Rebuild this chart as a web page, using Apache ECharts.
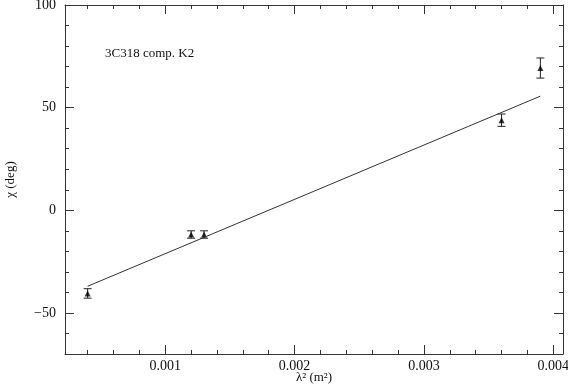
<!DOCTYPE html>
<html>
<head>
<meta charset="utf-8">
<script src="https://cdn.jsdelivr.net/npm/echarts@6/dist/echarts.min.js"></script>
<style>
html, body { margin: 0; padding: 0; background: #fff; }
#chart { width: 568px; height: 390px; }
</style>
</head>
<body>
<div id="chart"></div>
<script>
// lambda^2 (m^2) of each measurement
var lam2 = [0.0004, 0.0012, 0.0013, 0.0036, 0.0039];
// position angle chi (deg) and its error
var chi = [-40.5, -11.8, -11.8, 43.9, 69.3];
var chiErr = [2.3, 1.8, 1.8, 3, 4.9];
// fitted line end points
var fitX = [0.0004, 0.0039];
var fitY = [-37, 55.6];

var xTickLabels = ['0.001', '0.002', '0.003', '0.004'];
var yTickLabels = ['-50', '0', '50', '100'];

var axisColor = '#333';
var font = '"Liberation Serif", "DejaVu Serif", serif';

var fmtX = function(v) {
	for (var i = 0; i < xTickLabels.length; i++) {
		if (Math.abs(v - parseFloat(xTickLabels[i])) < 1e-9) return xTickLabels[i];
	}
	return '';
};
var fmtY = function(v) {
	for (var i = 0; i < yTickLabels.length; i++) {
		if (Math.abs(v - parseFloat(yTickLabels[i])) < 1e-9) return yTickLabels[i].replace('-', '\u2212');
	}
	return '';
};

var baseAxis = function(extra) {
	var a = {
		type: 'value',
		scale: true,
		splitLine: { show: false },
		axisLine: { show: true, onZero: false, lineStyle: { color: axisColor, width: 1 } },
		axisTick: { show: true, inside: true, length: 9, lineStyle: { color: axisColor } },
		minorTick: { show: true, splitNumber: 5, length: 4, lineStyle: { color: axisColor } },
		axisLabel: { show: false }
	};
	for (var k in extra) a[k] = extra[k];
	return a;
};

var errData = lam2.map(function(x, i) { return [x, chi[i] - chiErr[i], chi[i] + chiErr[i]]; });

var option = {
	animation: false,
	backgroundColor: '#fff',
	grid: { left: 65, right: 5, top: 5, bottom: 36, containLabel: false, outerBoundsMode: 'none' },
	title: {
		text: '3C318 comp. K2',
		left: 100,
		top: 42,
		textStyle: { fontFamily: font, fontSize: 13, fontWeight: 'normal', color: '#111' }
	},
	xAxis: [
		baseAxis({
			position: 'bottom', min: 0.000225, max: 0.004075, splitNumber: 4,
			axisLabel: { show: true, formatter: fmtX, fontFamily: font, fontSize: 14, color: '#111', margin: 5 },
			name: 'λ² (m²)', nameLocation: 'middle', nameGap: 17, nameMoveOverlap: false,
			nameTextStyle: { fontFamily: font, fontSize: 13, color: '#111' }
		}),
		baseAxis({ position: 'top', min: 0.000225, max: 0.004075, splitNumber: 4 })
	],
	yAxis: [
		baseAxis({
			position: 'left', min: -70, max: 100, splitNumber: 4,
			axisLabel: { show: true, formatter: fmtY, fontFamily: font, fontSize: 14, color: '#111', margin: 9 },
			name: 'χ (deg)', nameLocation: 'middle', nameGap: 48, nameRotate: 90,
			nameTextStyle: { fontFamily: font, fontSize: 13, color: '#111' }
		}),
		baseAxis({ position: 'right', min: -70, max: 100, splitNumber: 4 })
	],
	series: [{
		type: 'line',
		data: fitX.map(function(x, i) { return [x, fitY[i]]; }),
		symbol: 'none',
		lineStyle: { color: '#333', width: 1 },
		silent: true
	}, {
		type: 'custom',
		data: errData,
		renderItem: function(params, api) {
			var x = api.value(0);
			var lo = api.coord([x, api.value(1)]);
			var hi = api.coord([x, api.value(2)]);
			var cap = 4;
			return {
				type: 'group',
				children: [
					{ type: 'line', shape: { x1: lo[0], y1: lo[1], x2: hi[0], y2: hi[1] }, style: { stroke: '#222', lineWidth: 1 } },
					{ type: 'line', shape: { x1: lo[0] - cap, y1: lo[1], x2: lo[0] + cap, y2: lo[1] }, style: { stroke: '#222', lineWidth: 1 } },
					{ type: 'line', shape: { x1: hi[0] - cap, y1: hi[1], x2: hi[0] + cap, y2: hi[1] }, style: { stroke: '#222', lineWidth: 1 } }
				]
			};
		},
		encode: { x: 0, y: [1, 2] },
		silent: true
	}, {
		type: 'scatter',
		data: lam2.map(function(x, i) { return [x, chi[i]]; }),
		symbol: 'triangle',
		symbolSize: 6,
		itemStyle: { color: '#000' },
		silent: true
	}]
};

var chart = echarts.init(document.getElementById('chart'));
chart.setOption(option);
</script>
</body>
</html>
